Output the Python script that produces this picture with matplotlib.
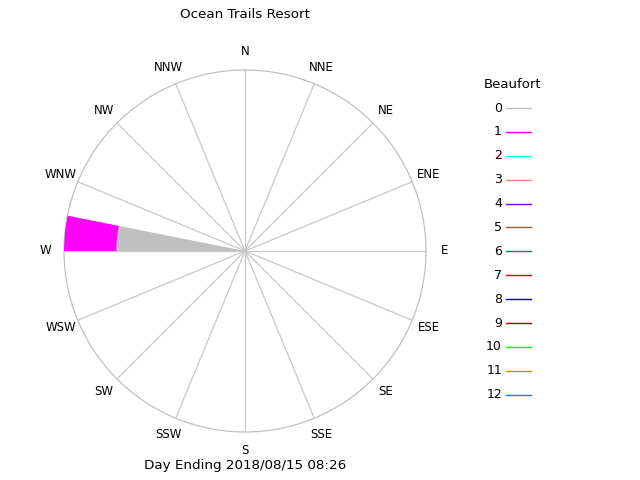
import numpy as np
import matplotlib
matplotlib.use('Agg')
import matplotlib.pyplot as plt
from matplotlib.lines import Line2D

# compass points
directions = ['N', 'NNE', 'NE', 'ENE', 'E', 'ESE', 'SE', 'SSE',
              'S', 'SSW', 'SW', 'WSW', 'W', 'WNW', 'NW', 'NNW']
angles = np.arange(16) * 22.5

# beaufort classes and colours
beaufort = [str(i) for i in range(13)]
bf_colors = ['#c0c0c0', '#ff00ff', '#00ffff', '#ff8080', '#8000ff', '#a0602d',
             '#00806a', '#e00000', '#0000e0', '#a00000', '#00ff00', '#ff8000',
             '#0080ff']

# percent of readings per direction, per beaufort class
bf0 = [0, 0, 0, 0, 0, 0, 0, 0, 0, 0, 0, 0, 71, 0, 0, 0]
bf1 = [0, 0, 0, 0, 0, 0, 0, 0, 0, 0, 0, 0, 29, 0, 0, 0]
series = [bf0, bf1]

title = 'Ocean Trails Resort'
footer = 'Day Ending 2018/08/15 08:26'

plt.rcParams['font.family'] = 'DejaVu Sans'
fig = plt.figure(figsize=(6.4, 4.8), dpi=100)
ax = fig.add_axes([0.1, 0.1, 0.5656, 0.7542], projection='polar')
ax.set_theta_zero_location('N')
ax.set_theta_direction(-1)
ax.set_ylim(0, 100)

bottom = np.zeros(16)
theta = np.radians(angles)
for vals, c in zip(series, bf_colors):
    vals = np.array(vals, dtype=float)
    ax.bar(theta, vals, width=np.radians(11.25), bottom=bottom, align='edge',
           color=c, edgecolor='none', zorder=3)
    bottom += vals

ax.set_yticks([])
ax.set_xticks(theta)
ax.set_xticklabels([])
ax.grid(True, color='#c8c8c8', linewidth=0.9)
ax.spines['polar'].set_color('#c0c0c0')
ax.spines['polar'].set_linewidth(0.9)
for t, lab in zip(theta, directions):
    ax.text(t, 110, lab, ha='center', va='center', fontsize=8.5, clip_on=False)

fig.text(245/640, 1 - 14/480, title, ha='center', va='center', fontsize=9.7)
fig.text(245/640, 1 - 466/480, footer, ha='center', va='center', fontsize=9.7)

# legend
fig.text(513/640, 1 - 85/480, 'Beaufort', ha='center', va='center', fontsize=9.5)
for i, (lab, c) in enumerate(zip(beaufort, bf_colors)):
    y = 1 - (108 + i * 23.9) / 480
    fig.text(502/640, y, lab, ha='right', va='center', fontsize=9)
    fig.add_artist(Line2D([506/640, 531/640], [y, y], color=c, linewidth=1,
                          transform=fig.transFigure))

fig.savefig('out.png', dpi=100)
